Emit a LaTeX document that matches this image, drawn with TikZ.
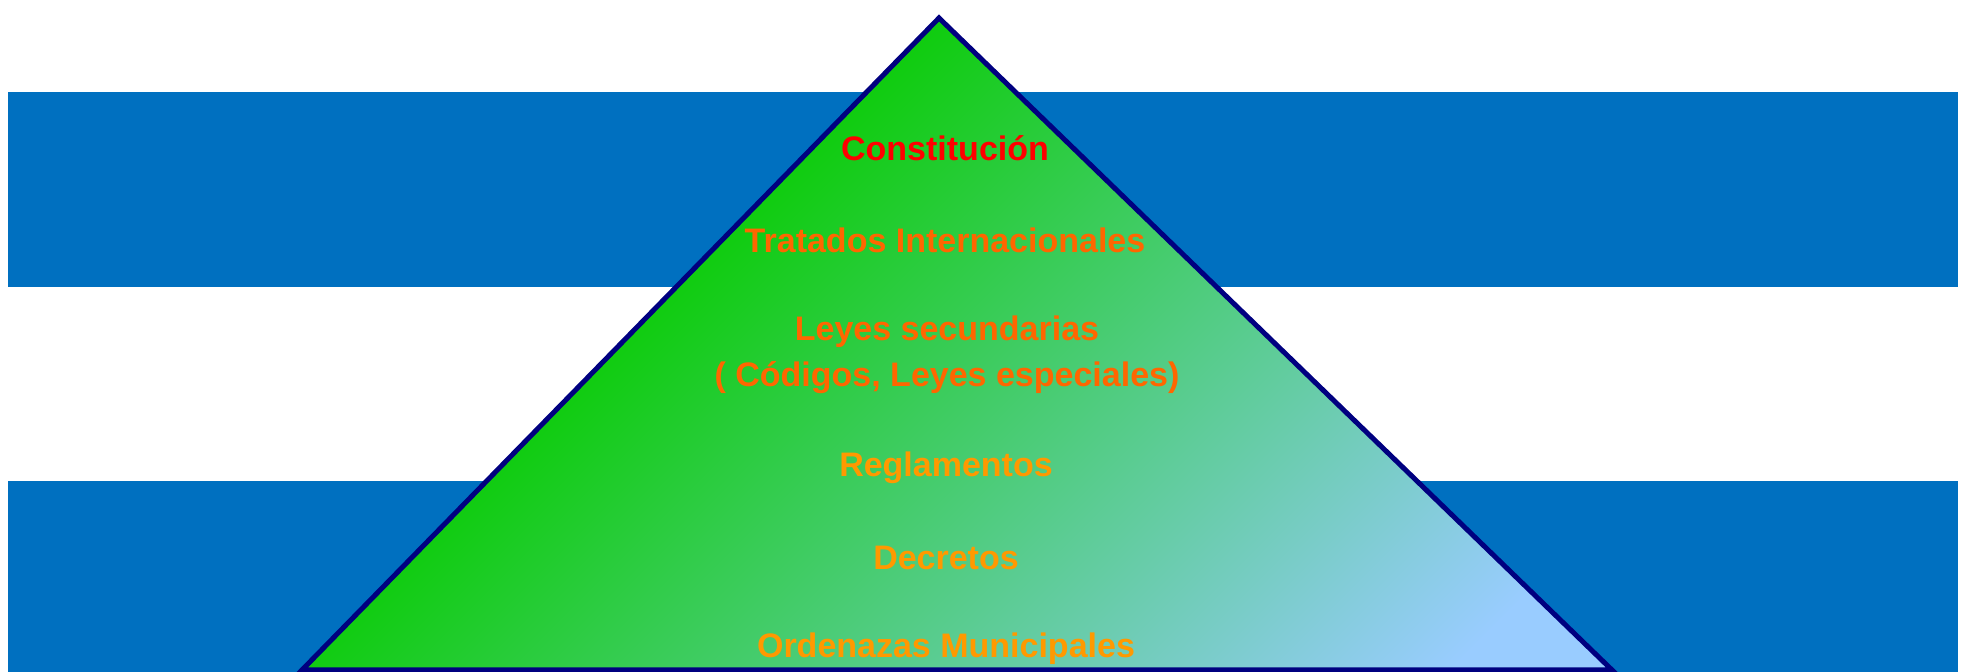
\documentclass[tikz,border=0pt]{standalone}
\usepackage{fontspec}
\setmainfont{Liberation Sans}
\usepackage{tikz}
\usetikzlibrary{positioning}
\definecolor{bandblue}{HTML}{0070C0}
\definecolor{apexgreen}{HTML}{10CC10}
\definecolor{baseblue}{HTML}{99CCFF}
\definecolor{edgenavy}{HTML}{000080}
\definecolor{lawred}{HTML}{FF0000}
\definecolor{laworange}{HTML}{FF6600}
\definecolor{lawamber}{HTML}{FF9900}

\begin{document}
\begin{tikzpicture}[x=0.5pt,y=-0.5pt]
	\tikzstyle{band}=[fill=bandblue]
	\tikzstyle{level}=[font=\fontsize{17}{23}\selectfont\bfseries, align=center, inner sep=0pt]
	\useasboundingbox (0,0) rectangle (1966,672);
	\fill[band] (8,92) rectangle (1958,287);
	\fill[band] (8,481) rectangle (1958,672);
	\coordinate (apex) at (939,18);
	\coordinate (baseL) at (302,670);
	\coordinate (baseR) at (1612,670);
	% pyramid: green along the left side, light blue at the right corner
	\fill[baseblue] (apex) -- (baseR) -- (baseL) -- cycle;
	\begin{scope}
		\clip (apex) -- (baseR) -- (baseL) -- cycle;
		\fill[transform canvas={rotate=-45}, apexgreen] (600,-720) rectangle (683,320);
		\shade[transform canvas={rotate=-45}, left color=apexgreen, right color=baseblue]
			(682,-720) rectangle (1500,320);
	\end{scope}
	\draw[edgenavy, line width=2.5pt] (apex) -- (baseR) -- (baseL) -- cycle;
	\node[level, lawred](constitucion) at (945,148) {Constitución};
	\node[level, laworange](tratados) at (945,240) {Tratados Internacionales};
	\node[level, laworange](leyes) at (947,355) {Leyes secundarias\\( Códigos, Leyes especiales)};
	\node[level, lawamber](reglamentos) at (946,468) {Reglamentos};
	\node[level, lawamber](decretos) at (946,558) {Decretos};
	\node[level, lawamber](ordenanzas) at (946,649) {Ordenazas Municipales};
\end{tikzpicture}
\end{document}
